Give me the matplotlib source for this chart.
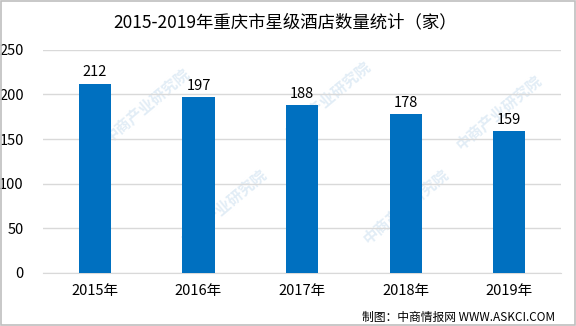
import matplotlib
matplotlib.use("Agg")
import matplotlib.pyplot as plt
from matplotlib.patches import Rectangle

plt.rcParams['font.family'] = ['Noto Sans CJK SC', 'DejaVu Sans']

years = ['2015年', '2016年', '2017年', '2018年', '2019年']
hotels = [212, 197, 188, 178, 159]
title = '2015-2019年重庆市星级酒店数量统计（家）'
source = '制图：中商情报网 WWW.ASKCI.COM'

fig = plt.figure(figsize=(5.76, 3.26), dpi=100)
ax = fig.add_axes([0.075, 0.163, 0.899, 0.684])

x = range(len(years))
ax.bar(x, hotels, width=0.31, color='#0070C0', zorder=3)
for xi, v in zip(x, hotels):
    ax.text(xi, v + 5, str(v), ha='center', va='bottom', fontsize=10.5, color='#000000')

# faint watermark, behind the bars
for wx, wy in [(0.2, 0.75), (0.55, 0.78), (0.88, 0.72), (0.35, 0.3), (0.7, 0.3)]:
    ax.text(wx, wy, '中商产业研究院', transform=ax.transAxes, fontsize=11,
            color='#e2edf6', rotation=40, ha='center', va='center',
            fontweight='bold', zorder=1)

ax.set_ylim(0, 250)
ax.set_xlim(-0.5, len(years) - 0.5)
ax.set_yticks(range(0, 251, 50))
ax.set_xticks(list(x))
ax.set_xticklabels(years)
ax.tick_params(axis='both', length=0, labelsize=10.5, colors='#000000')
ax.tick_params(axis='x', pad=8)
ax.tick_params(axis='y', pad=14)
ax.grid(axis='y', color='#d9d9d9', linewidth=1, zorder=0)
for s in ['top', 'right', 'left']:
    ax.spines[s].set_visible(False)
ax.spines['bottom'].set_color('#d9d9d9')

fig.text(0.495, 0.932, title, ha='center', va='center', fontsize=12.5)
fig.text(0.963, 0.027, source, ha='right', va='center', fontsize=8.5)

fig.patches.append(Rectangle((0.001, 0.002), 0.997, 0.995, transform=fig.transFigure,
                             fill=False, edgecolor='#bfbfbf', linewidth=1.2))

fig.savefig('out.png', dpi=100)
